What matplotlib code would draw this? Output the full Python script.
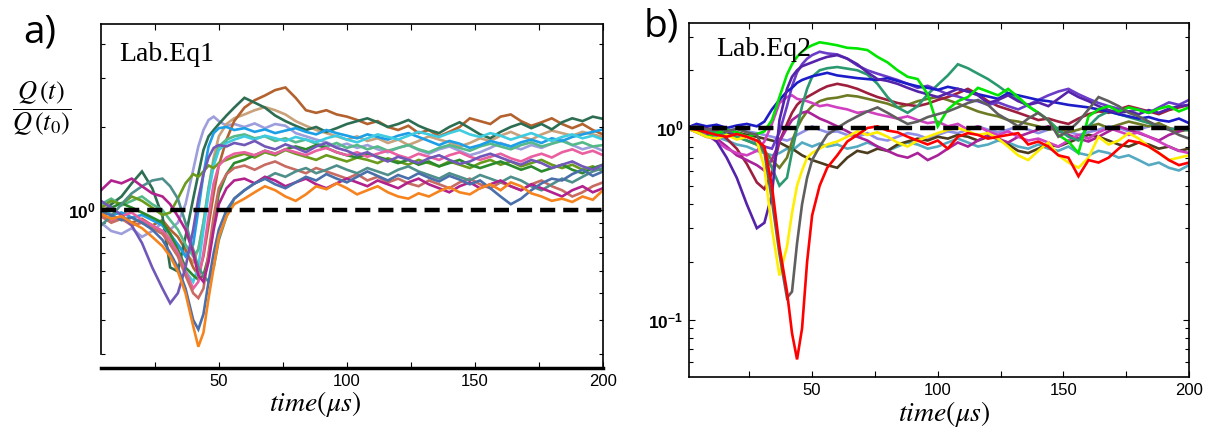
import matplotlib
matplotlib.use("Agg")
import matplotlib.pyplot as plt
from matplotlib.ticker import FixedLocator, LogLocator, NullFormatter

plt.rcParams['font.family'] = ['Liberation Sans', 'DejaVu Sans']
plt.rcParams['mathtext.fontset'] = 'custom'
plt.rcParams['mathtext.rm'] = 'Liberation Sans'
plt.rcParams['mathtext.bf'] = 'Liberation Sans:bold'
plt.rcParams['mathtext.it'] = 'Liberation Sans:italic'

# ---------------- data ----------------
time_us = [0, 4, 8, 12, 16, 20, 24, 28, 31, 34, 37, 40, 42, 44, 46, 48, 50, 53, 56,
           60, 64, 68, 72, 76, 80, 84, 88, 92, 96, 100, 104, 108, 112, 116, 120, 124, 128,
           132, 136, 140, 144, 148, 152, 156, 160, 164, 168, 172, 176, 180, 184, 188, 192, 196, 200]

# panel a) Lab.Eq1  -- Q(t)/Q(t0)
eq1_orange = [1.00,0.97,0.93,0.95,0.90,0.86,0.80,0.74, 0.68,0.60,0.50,0.38,0.32,0.36,0.48,0.62,0.80,0.95,1.05,
              1.10,1.16,1.22,1.18,1.12,1.08,1.14,1.22,1.19,1.25,1.20,1.14,1.18,1.22,1.16,1.12,1.10,1.15,1.12,1.17,
              1.21,1.16,1.14,1.20,1.24,1.18,1.26,1.22,1.15,1.12,1.08,1.10,1.07,1.12,1.09,1.18]
eq1_steelblue = [1.02,0.98,0.96,0.92,0.94,0.90,0.85,0.78, 0.70,0.62,0.52,0.40,0.37,0.42,0.55,0.70,0.85,1.00,1.10,
                 1.18,1.25,1.30,1.24,1.20,1.26,1.32,1.28,1.35,1.30,1.26,1.32,1.38,1.33,1.28,1.34,1.30,1.36,1.31,1.27,
                 1.33,1.29,1.24,1.28,1.20,1.12,1.05,1.10,1.18,1.25,1.30,1.28,1.35,1.40,1.33,1.38]
eq1_purple = [1.05,1.08,1.02,0.96,0.88,0.76,0.62,0.52, 0.46,0.50,0.62,0.85,1.10,1.35,1.55,1.68,1.72,1.70,1.75,
              1.72,1.78,1.70,1.66,1.73,1.68,1.62,1.70,1.75,1.68,1.64,1.58,1.62,1.55,1.50,1.56,1.52,1.48,1.54,1.58,
              1.52,1.47,1.50,1.56,1.60,1.55,1.50,1.46,1.52,1.48,1.42,1.46,1.50,1.44,1.40,1.46]
eq1_darkgreen = [0.92,0.96,1.05,1.12,1.25,1.38,1.20,0.95, 0.62,0.60,0.80,1.10,1.35,1.65,1.85,1.95,2.05,2.20,2.35,
                 2.55,2.45,2.35,2.20,2.10,2.02,1.95,2.00,1.92,1.98,2.05,2.10,2.15,2.08,2.00,2.05,2.12,2.02,1.95,1.90,
                 2.00,2.08,1.98,1.88,1.82,1.92,2.00,2.06,1.98,2.05,1.96,2.08,2.15,2.10,2.18,2.14]
eq1_brown = [1.00,0.96,0.92,0.95,0.90,0.93,0.88,0.92, 0.85,0.80,0.72,0.62,0.58,0.68,0.88,1.15,1.45,1.80,2.10,
             2.35,2.50,2.60,2.72,2.78,2.55,2.30,2.25,2.30,2.22,2.18,2.12,2.05,2.10,2.00,1.95,2.02,1.90,1.95,1.85,
             1.92,2.00,2.15,2.10,2.05,2.18,2.22,2.10,2.02,2.08,2.15,2.05,1.98,2.05,1.95,1.88]
eq1_tan = [1.02,1.05,1.00,0.96,1.02,0.98,0.93,0.88, 0.80,0.75,0.70,0.65,0.72,0.90,1.20,1.55,1.85,2.05,2.15,
           2.22,2.30,2.36,2.30,2.22,2.10,2.02,1.95,1.90,1.85,1.80,1.85,1.78,1.82,1.75,1.80,1.72,1.78,1.85,1.80,
           1.76,1.70,1.75,1.82,1.78,1.86,1.92,1.85,1.80,1.88,1.94,1.90,1.86,1.92,1.88,1.84]
eq1_lavender = [0.96,0.90,0.84,0.82,0.86,0.80,0.84,0.90, 0.85,0.90,1.05,1.40,1.70,1.95,2.12,2.18,2.10,2.02,2.05,
                2.00,2.06,1.98,2.05,2.02,1.90,1.85,1.80,1.76,1.70,1.74,1.68,1.72,1.66,1.62,1.68,1.72,1.65,1.60,1.66,
                1.70,1.64,1.58,1.62,1.68,1.75,1.70,1.66,1.72,1.68,1.74,1.80,1.72,1.66,1.70,1.64]
eq1_skyblue = [1.05,1.00,0.96,0.98,0.94,0.96,0.92,0.88, 0.82,0.75,0.68,0.75,1.00,1.35,1.70,1.90,1.98,2.00,1.95,
               1.98,1.92,1.96,1.90,1.94,1.98,1.92,1.88,1.95,1.90,1.86,1.82,1.88,1.84,1.80,1.86,1.90,1.84,1.78,1.72,
               1.78,1.74,1.68,1.72,1.78,1.74,1.70,1.76,1.80,1.75,1.82,1.78,1.84,1.88,1.92,1.96]
eq1_cyan = [1.08,1.02,0.96,0.92,0.94,0.90,0.88,0.84, 0.78,0.70,0.60,0.55,0.62,0.85,1.15,1.45,1.65,1.75,1.80,
            1.85,1.80,1.86,1.82,1.78,1.84,1.80,1.76,1.82,1.86,1.80,1.76,1.82,1.88,1.84,1.80,1.86,1.92,1.88,1.84,
            1.90,1.95,1.88,1.84,1.90,1.86,1.80,1.85,1.90,1.84,1.78,1.84,1.88,1.82,1.86,1.80]
eq1_seagreen = [1.00,1.05,1.10,1.04,1.08,1.12,1.05,1.00, 0.92,0.85,0.75,0.68,0.72,0.90,1.20,1.50,1.70,1.80,1.85,
                1.88,1.82,1.85,1.78,1.82,1.76,1.80,1.74,1.70,1.75,1.68,1.72,1.66,1.70,1.64,1.68,1.72,1.66,1.62,1.68,
                1.72,1.68,1.64,1.70,1.74,1.70,1.66,1.72,1.76,1.70,1.74,1.78,1.72,1.76,1.70,1.72]
eq1_magenta = [1.05,1.18,1.28,1.25,1.30,1.22,1.15,1.12, 1.05,0.95,0.85,0.70,0.58,0.55,0.65,0.85,1.05,1.20,1.28,
               1.30,1.25,1.32,1.28,1.22,1.26,1.30,1.24,1.20,1.25,1.30,1.26,1.22,1.28,1.24,1.20,1.26,1.30,1.24,1.20,
               1.16,1.22,1.26,1.20,1.24,1.28,1.22,1.18,1.24,1.20,1.16,1.12,1.18,1.22,1.16,1.20]
eq1_pink = [1.00,0.96,0.92,0.95,0.98,0.92,0.88,0.84, 0.78,0.70,0.60,0.52,0.55,0.70,0.95,1.25,1.45,1.55,1.60,
            1.62,1.58,1.64,1.60,1.66,1.62,1.58,1.64,1.68,1.62,1.58,1.62,1.56,1.60,1.64,1.58,1.54,1.60,1.56,1.52,
            1.58,1.62,1.56,1.52,1.56,1.60,1.54,1.50,1.56,1.60,1.55,1.62,1.66,1.60,1.64,1.58]
eq1_olive = [0.98,1.02,1.08,1.05,1.12,1.08,1.02,0.96, 0.98,1.10,1.25,1.35,1.32,1.38,1.45,1.42,1.48,1.52,1.56,
             1.60,1.55,1.62,1.58,1.65,1.60,1.56,1.52,1.58,1.54,1.50,1.55,1.52,1.48,1.54,1.50,1.46,1.52,1.48,1.44,
             1.50,1.46,1.42,1.48,1.52,1.46,1.50,1.44,1.48,1.52,1.46,1.42,1.46,1.40,1.44,1.38]
eq1_green = [1.00,0.96,1.02,1.06,1.02,0.98,0.94,0.90, 0.82,0.72,0.62,0.58,0.56,0.58,0.68,0.90,1.15,1.35,1.48,
             1.52,1.58,1.64,1.60,1.66,1.70,1.66,1.72,1.68,1.62,1.58,1.55,1.60,1.56,1.52,1.48,1.52,1.46,1.50,1.44,
             1.48,1.52,1.46,1.42,1.46,1.50,1.45,1.40,1.44,1.38,1.42,1.46,1.40,1.36,1.42,1.46]
eq1_tealgray = [0.92,0.88,0.95,1.05,1.15,1.22,1.28,1.30, 1.22,1.10,0.90,0.72,0.62,0.58,0.55,0.62,0.78,0.95,1.10,
                1.18,1.25,1.30,1.36,1.32,1.38,1.42,1.36,1.40,1.45,1.40,1.36,1.42,1.38,1.34,1.40,1.44,1.38,1.34,1.30,
                1.36,1.32,1.28,1.34,1.30,1.26,1.32,1.28,1.22,1.18,1.24,1.30,1.26,1.32,1.38,1.42]
eq1_rose = [1.00,0.95,0.90,0.93,0.88,0.90,0.86,0.82, 0.75,0.68,0.58,0.50,0.48,0.52,0.70,0.95,1.20,1.35,1.42,
            1.45,1.40,1.46,1.50,1.44,1.40,1.36,1.42,1.38,1.34,1.30,1.35,1.28,1.32,1.26,1.30,1.25,1.22,1.28,1.24,
            1.20,1.26,1.30,1.24,1.20,1.26,1.22,1.18,1.24,1.28,1.22,1.18,1.12,1.16,1.22,1.26]

# panel b) Lab.Eq2
eq2_green = [1.00,0.96,0.90,0.94,0.98,0.95,0.90,0.93, 0.96,1.10,1.45,1.90,2.15,2.35,2.50,2.62,2.70,2.80,2.76,
             2.70,2.62,2.60,2.55,2.35,2.20,2.00,1.85,1.80,1.50,1.02,1.25,1.38,1.45,1.62,1.55,1.48,1.60,1.45,1.30,
             1.20,1.10,0.92,0.85,0.74,1.15,1.25,1.30,1.22,1.28,1.24,1.20,1.26,1.30,1.22,1.28]
eq2_red = [1.00,0.98,0.95,0.92,0.90,0.93,0.90,0.86, 0.80,0.50,0.24,0.14,0.085,0.062,0.09,0.20,0.35,0.50,0.62,
           0.72,0.85,0.92,1.00,1.02,0.97,0.95,0.90,0.86,0.82,0.86,0.78,0.90,0.94,0.92,0.88,0.90,0.92,0.94,0.82,
           0.85,0.80,0.72,0.70,0.56,0.68,0.66,0.70,0.78,0.86,0.84,0.80,0.74,0.68,0.64,0.66]
eq2_yellow = [1.00,0.95,0.90,0.88,0.92,0.87,0.90,0.86, 0.62,0.30,0.17,0.24,0.36,0.50,0.60,0.70,0.74,0.78,0.82,
              0.85,0.90,0.96,0.92,0.95,0.90,0.84,0.80,0.86,0.90,0.94,0.98,1.00,0.96,0.92,0.94,0.88,0.80,0.72,0.68,
              0.76,0.84,0.72,0.66,0.62,0.70,0.90,0.82,0.86,0.94,0.88,0.80,0.74,0.68,0.70,0.72]
eq2_gray = [1.00,1.02,0.98,1.00,0.96,0.99,0.95,0.92, 0.75,0.42,0.22,0.13,0.14,0.25,0.40,0.55,0.68,0.80,0.92,
            1.00,1.08,1.15,1.22,1.28,1.20,1.12,1.05,1.08,1.14,1.18,1.22,1.28,1.35,1.40,1.32,1.18,1.10,1.02,1.12,
            1.20,1.10,0.90,0.96,1.08,1.25,1.45,1.38,1.30,1.20,1.15,1.08,1.02,0.98,0.92,0.88]
eq2_indigo = [1.00,0.98,0.95,0.85,0.70,0.55,0.40,0.30, 0.32,0.45,1.10,1.60,1.85,2.00,2.10,2.15,2.20,2.28,2.35,
              2.40,2.30,2.15,1.95,1.80,1.76,1.70,1.62,1.55,1.50,1.45,1.52,1.60,1.55,1.48,1.35,1.40,1.48,1.38,1.32,
              1.36,1.30,1.42,1.55,1.45,1.38,1.30,1.24,1.20,1.22,1.18,1.24,1.20,1.26,1.30,1.32]
eq2_blue = [1.00,1.05,1.02,1.04,1.00,1.03,1.05,1.02, 1.08,1.25,1.40,1.55,1.62,1.72,1.78,1.82,1.86,1.90,1.94,
            1.88,1.85,1.82,1.80,1.78,1.82,1.76,1.70,1.65,1.62,1.58,1.64,1.60,1.55,1.50,1.46,1.42,1.52,1.48,1.44,
            1.40,1.38,1.35,1.32,1.30,1.28,1.25,1.22,1.18,1.15,1.12,1.14,1.10,1.08,1.12,1.06]
eq2_violet = [1.00,1.02,0.98,1.00,0.96,0.94,0.90,0.85, 0.80,0.78,0.95,1.30,1.65,1.95,2.15,2.30,2.40,2.50,2.45,
              2.42,2.30,2.12,2.00,1.92,1.85,1.78,1.70,1.62,1.66,1.58,1.50,1.46,1.40,1.38,1.32,1.36,1.30,1.25,1.32,
              1.40,1.48,1.55,1.60,1.50,1.42,1.35,1.30,1.26,1.22,1.25,1.20,1.28,1.36,1.32,1.40]
eq2_teal = [1.00,0.98,0.96,0.95,0.92,0.90,0.86,0.82, 0.75,0.62,0.50,0.55,0.75,1.00,1.30,1.60,1.85,2.00,2.05,
            2.08,2.04,2.00,1.90,1.70,1.45,1.28,1.20,1.30,1.50,1.68,1.88,2.15,2.05,1.92,1.80,1.66,1.52,1.40,1.30,
            1.20,1.10,0.98,0.90,0.86,1.02,1.15,1.22,1.18,1.14,1.10,1.06,1.02,0.98,1.00,0.97]
eq2_magenta = [1.00,0.96,0.92,0.85,0.78,0.74,0.72,0.76, 0.85,1.05,1.35,1.45,1.48,1.42,1.40,1.38,1.35,1.30,1.32,
               1.28,1.25,1.20,1.22,1.18,1.15,1.12,1.15,1.10,1.06,1.08,1.02,1.05,0.98,1.02,0.96,0.92,0.96,0.90,0.86,
               0.88,0.84,0.80,0.86,0.92,0.88,0.95,1.00,0.96,0.92,0.95,0.90,0.85,0.80,0.76,0.74]
eq2_plum = [1.00,0.95,0.90,0.88,0.80,0.72,0.68,0.64, 0.60,0.68,0.85,1.00,1.10,1.15,1.20,1.22,1.18,1.12,1.08,
            1.02,0.96,0.90,0.86,0.80,0.76,0.72,0.70,0.74,0.68,0.72,0.78,0.84,0.80,0.86,0.92,0.88,0.84,0.90,0.94,
            0.98,1.02,0.96,0.92,0.88,0.85,0.90,0.96,1.02,0.98,0.94,0.90,0.86,0.92,0.96,1.00]
eq2_maroon = [1.00,1.04,1.00,0.96,0.88,0.78,0.65,0.52, 0.48,0.58,0.85,1.05,1.20,1.32,1.40,1.45,1.50,1.58,1.65,
              1.70,1.66,1.60,1.52,1.45,1.40,1.35,1.32,1.30,1.34,1.40,1.45,1.52,1.60,1.50,1.38,1.30,1.25,1.20,1.15,
              1.10,1.12,1.08,1.05,1.12,1.18,1.22,1.20,1.25,1.30,1.26,1.22,1.18,1.24,1.28,1.32]
eq2_olive = [1.00,0.97,0.94,0.96,0.92,0.90,0.86,0.82, 0.76,0.68,0.62,0.70,0.85,1.00,1.12,1.22,1.30,1.38,1.42,
             1.44,1.48,1.46,1.42,1.38,1.34,1.28,1.32,1.38,1.42,1.45,1.40,1.34,1.28,1.22,1.18,1.15,1.10,1.08,1.05,
             1.02,0.98,1.00,0.95,0.98,1.02,1.05,1.00,1.04,1.08,1.05,1.02,1.06,1.00,0.96,0.98]
eq2_darkbrown = [1.00,0.98,0.95,0.97,0.93,0.95,0.92,0.90, 0.88,0.86,0.84,0.80,0.78,0.75,0.72,0.70,0.68,0.66,0.64,
                 0.62,0.70,0.76,0.74,0.78,0.76,0.82,0.85,0.88,0.86,0.90,0.88,0.92,0.90,0.86,0.90,0.88,0.82,0.76,0.74,
                 0.78,0.82,0.80,0.84,0.88,0.92,0.90,0.86,0.82,0.80,0.84,0.82,0.78,0.80,0.76,0.78]
eq2_bluegray = [1.00,0.96,0.93,0.90,0.86,0.82,0.80,0.76, 0.74,0.72,0.74,0.78,0.76,0.80,0.84,0.82,0.80,0.83,0.80,
                0.82,0.78,0.80,0.84,0.80,0.76,0.80,0.84,0.82,0.78,0.80,0.84,0.88,0.84,0.80,0.82,0.86,0.84,0.80,0.78,
                0.82,0.78,0.76,0.80,0.74,0.72,0.76,0.74,0.70,0.72,0.68,0.64,0.66,0.62,0.60,0.64]
eq2_lavender = [1.00,1.02,0.98,1.00,0.97,0.99,0.96,0.94, 0.92,0.90,0.88,0.86,0.88,0.92,0.95,0.98,1.02,0.98,0.95,
                0.96,0.92,0.90,0.94,0.88,0.86,0.90,0.94,0.92,0.88,0.92,0.96,0.94,0.98,1.02,0.98,0.95,0.98,1.02,0.98,
                0.94,0.98,1.00,0.96,0.92,0.95,0.98,1.02,1.00,0.96,0.98,1.02,1.05,1.00,0.98,1.02]

reference_level = 1.0

xtick_values = [25, 50, 75, 100, 125, 150, 175, 200]
xtick_labels = ['', '50', '', '100', '', '150', '', '200']
ytick_values_a = [1]
ytick_labels_a = [r'$\mathbf{10^{0}}$']
ytick_values_b = [0.1, 1]
ytick_labels_b = [r'$\mathbf{10^{-1}}$', r'$\mathbf{10^{0}}$']

series_a = [
    (eq1_lavender, '#9d9edc'), (eq1_tan, '#c9a17b'), (eq1_brown, '#b3622f'),
    (eq1_darkgreen, '#2d6e53'), (eq1_seagreen, '#56b98a'), (eq1_skyblue, '#1c9fe6'),
    (eq1_cyan, '#3fcbe0'), (eq1_olive, '#6b9b1c'), (eq1_green, '#2a8a2c'),
    (eq1_pink, '#ea5fa0'), (eq1_rose, '#c76b63'), (eq1_tealgray, '#4f8f8b'),
    (eq1_magenta, '#b2228d'), (eq1_purple, '#7158b8'), (eq1_steelblue, '#4a6fab'),
    (eq1_orange, '#f5841f'),
]
series_b = [
    (eq2_lavender, '#8f8fe8'), (eq2_bluegray, '#55aac2'), (eq2_darkbrown, '#4a3c1c'),
    (eq2_olive, '#6e7b24'), (eq2_maroon, '#9e1f3d'), (eq2_plum, '#aa2299'),
    (eq2_magenta, '#d040c0'), (eq2_teal, '#2b9970'), (eq2_violet, '#6a3cc8'),
    (eq2_blue, '#1c1cc8'), (eq2_indigo, '#5522aa'), (eq2_green, '#00e600'),
    (eq2_yellow, '#ffee00'), (eq2_gray, '#5f5f5f'), (eq2_red, '#ff0000'),
]

# ---------------- figure ----------------
W, H = 1210, 429
fig = plt.figure(figsize=(W / 100, H / 100), dpi=100)
axA = fig.add_axes([101 / W, 1 - 368 / H, 502 / W, 344 / H])
axB = fig.add_axes([689 / W, 1 - 377 / H, 500 / W, 354 / H])


def style(ax, series, xlim, ylim, yvals, ylabels):
    ax.set_yscale('log')
    for vals, col in series:
        ax.plot(time_us, vals, color=col, lw=1.9, solid_joinstyle='miter')
    ax.axhline(reference_level, color='black', lw=3.2, dashes=(3.4, 1.8), zorder=5)
    ax.set_xlim(*xlim)
    ax.set_ylim(*ylim)
    ax.xaxis.set_major_locator(FixedLocator(xtick_values))
    ax.set_xticklabels(xtick_labels)
    ax.set_yticks(yvals, labels=ylabels)
    ax.yaxis.set_minor_locator(LogLocator(base=10, subs=(2, 3, 4, 5, 6, 7, 8, 9)))
    ax.yaxis.set_minor_formatter(NullFormatter())
    ax.tick_params(which='both', direction='in', top=True, right=True, width=0.8)
    ax.tick_params(which='major', length=4)
    ax.tick_params(which='minor', length=3)
    ax.tick_params(axis='x', labelsize=12, pad=4)
    ax.tick_params(axis='y', labelsize=12.5, pad=4)
    for sp in ax.spines.values():
        sp.set_linewidth(1.2)


style(axA, series_a, (4, 200), (0.268, 4.72), ytick_values_a, ytick_labels_a)
style(axB, series_b, (1, 200), (0.0502, 3.53), ytick_values_b, ytick_labels_b)
axA.spines['bottom'].set_linewidth(2.5)
axA.spines['left'].set_bounds(0.3, 4.72)

axA.text(0.036, 0.892, 'Lab.Eq1', transform=axA.transAxes, fontsize=20,
         family='Liberation Serif', va='baseline', ha='left')
axB.text(0.054, 0.907, 'Lab.Eq2', transform=axB.transAxes, fontsize=20,
         family='Liberation Serif', va='baseline', ha='left')

fig.text(40 / W, 1 - 33 / H, 'a)', fontsize=28, family='Open Sans', ha='center', va='center')
fig.text(661 / W, 1 - 27 / H, 'b)', fontsize=28, family='Open Sans', ha='center', va='center')

fig.text(42 / W, 1 - 108 / H, r'$\dfrac{Q\,(t)}{Q\,(t_0)}$', fontsize=19, math_fontfamily='stix',
         ha='center', va='center')
fig.text(315 / W, 1 - 404 / H, r'$time(\mu s)$', fontsize=20, math_fontfamily='stix',
         ha='center', va='center')
fig.text(944 / W, 1 - 414 / H, r'$time(\mu s)$', fontsize=20, math_fontfamily='stix',
         ha='center', va='center')

fig.savefig('out.png', dpi=100)
